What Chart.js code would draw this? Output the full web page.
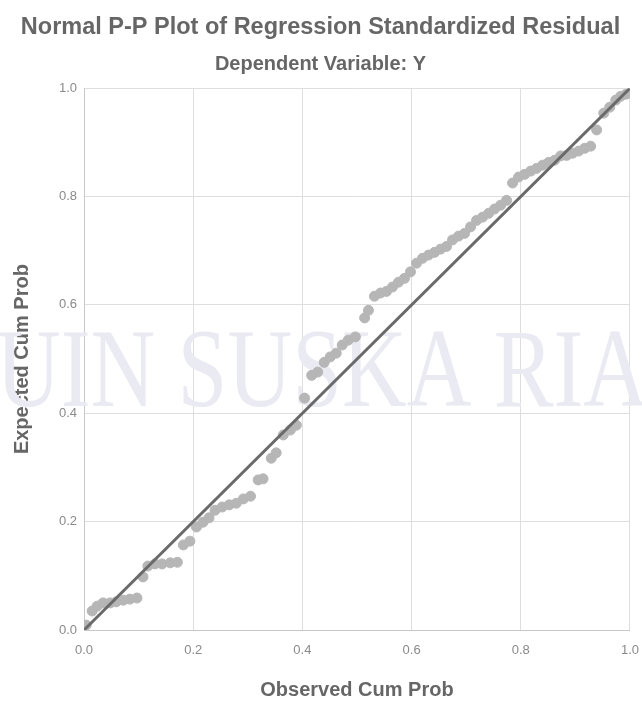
<!DOCTYPE html>
<html>
<head>
<meta charset="utf-8">
<script src="https://cdn.jsdelivr.net/npm/chart.js@4"></script>
<style>
  html, body { margin: 0; padding: 0; background: #fff; }
  #wrap { width: 642px; height: 704px; }
</style>
</head>
<body>
<div id="wrap"><canvas id="pp" width="642" height="704"></canvas></div>
<script>
/* P-P plot data */
var observedCum = [
  0.004, 0.015, 0.024, 0.035, 0.048, 0.059, 0.072, 0.084, 0.097, 0.108,
  0.117, 0.130, 0.143, 0.158, 0.171, 0.182, 0.194, 0.206, 0.218, 0.229,
  0.240, 0.253, 0.266, 0.279, 0.292, 0.305, 0.319, 0.328, 0.343, 0.352,
  0.365, 0.378, 0.389, 0.404, 0.417, 0.428, 0.440, 0.451, 0.462, 0.473,
  0.484, 0.497, 0.514, 0.521, 0.532, 0.543, 0.554, 0.565, 0.576, 0.587,
  0.598, 0.609, 0.620, 0.631, 0.642, 0.653, 0.664, 0.675, 0.686, 0.697,
  0.708, 0.719, 0.730, 0.741, 0.752, 0.763, 0.774, 0.785, 0.796, 0.807,
  0.818, 0.829, 0.840, 0.851, 0.862, 0.873, 0.884, 0.895, 0.906, 0.917,
  0.928, 0.939, 0.952, 0.963, 0.974, 0.983, 0.993
];
var expectedCum = [
  0.009, 0.035, 0.044, 0.050, 0.050, 0.052, 0.055, 0.057, 0.059, 0.098,
  0.118, 0.122, 0.122, 0.124, 0.125, 0.157, 0.164, 0.190, 0.199, 0.207,
  0.221, 0.227, 0.231, 0.234, 0.242, 0.247, 0.277, 0.279, 0.317, 0.327,
  0.360, 0.369, 0.378, 0.428, 0.470, 0.476, 0.494, 0.504, 0.511, 0.526,
  0.535, 0.541, 0.576, 0.590, 0.616, 0.622, 0.625, 0.633, 0.642, 0.649,
  0.661, 0.677, 0.686, 0.692, 0.697, 0.703, 0.708, 0.720, 0.727, 0.732,
  0.744, 0.756, 0.762, 0.769, 0.777, 0.784, 0.793, 0.825, 0.836, 0.841,
  0.847, 0.852, 0.858, 0.863, 0.867, 0.875, 0.876, 0.880, 0.884, 0.889,
  0.893, 0.923, 0.954, 0.965, 0.978, 0.985, 0.989
];
var refLine = [0, 1];
var tickValues = [0, 0.2, 0.4, 0.6, 0.8, 1.0];

var points = observedCum.map(function(x, i) { return { x: x, y: expectedCum[i] }; });
var diag = refLine.map(function(v) { return { x: v, y: v }; });

var FONT = 'Arial, "Liberation Sans", sans-serif';

/* faint watermark behind the plot */
var watermark = {
  id: 'watermark',
  beforeDatasetsDraw: function(chart) {
    var ctx = chart.ctx;
    ctx.save();
    ctx.font = '112px "Liberation Serif", serif';
    ctx.fillStyle = '#eaeaf3';
    ctx.textBaseline = 'alphabetic';
    var w = ctx.measureText('UIN SUSKA RIA').width;
    ctx.translate(-4, 406);
    ctx.scale(652 / w, 1);
    ctx.fillText('UIN SUSKA RIAU', 0, 0);
    ctx.restore();
  }
};

new Chart(document.getElementById('pp'), {
  type: 'scatter',
  data: {
    datasets: [
      {
        data: points,
        backgroundColor: '#b6b6b6',
        borderColor: '#b6b6b6',
        pointRadius: 5,
        pointHoverRadius: 5,
        order: 2
      },
      {
        data: diag,
        showLine: true,
        borderColor: '#6a6a6a',
        borderWidth: 3,
        pointRadius: 0,
        order: 1
      }
    ]
  },
  options: {
    responsive: false,
    animation: false,
    layout: { padding: { left: 0, right: 1, top: 0, bottom: 0 } },
    plugins: {
      legend: { display: false },
      tooltip: { enabled: false },
      title: {
        display: true,
        text: 'Normal P-P Plot of Regression Standardized Residual',
        color: '#666666',
        font: { family: FONT, size: 23.5, weight: 'bold' },
        padding: { top: 13, bottom: 6 }
      },
      subtitle: {
        display: true,
        text: 'Dependent Variable: Y',
        color: '#666666',
        font: { family: FONT, size: 20, weight: 'bold' },
        padding: { top: 5, bottom: 12 }
      }
    },
    scales: {
      x: {
        type: 'linear',
        min: 0,
        max: 1,
        afterBuildTicks: function(axis) { axis.ticks = tickValues.map(function(v) { return { value: v }; }); },
        afterFit: function(axis) { axis.height = 74; },
        ticks: {
          color: '#8a8a8a',
          font: { family: FONT, size: 13 },
          padding: 3,
          callback: function(v) { return v.toFixed(1); }
        },
        grid: { color: '#dedede', lineWidth: 1, drawTicks: true, tickLength: 10, tickColor: 'rgba(0,0,0,0)' },
        border: { color: '#c8c8c8' },
        title: {
          display: true,
          text: 'Observed Cum Prob',
          color: '#666666',
          font: { family: FONT, size: 20, weight: 'bold' },
          padding: { top: 10, bottom: 2 }
        }
      },
      y: {
        type: 'linear',
        min: 0,
        max: 1,
        afterBuildTicks: function(axis) { axis.ticks = tickValues.map(function(v) { return { value: v }; }); },
        afterFit: function(axis) { axis.width = 84; },
        ticks: {
          color: '#8a8a8a',
          font: { family: FONT, size: 13 },
          padding: 7,
          callback: function(v) { return v.toFixed(1); }
        },
        grid: { color: '#dedede', lineWidth: 1, drawTicks: false },
        border: { color: '#c8c8c8' },
        title: {
          display: true,
          text: 'Expected Cum Prob',
          color: '#666666',
          font: { family: FONT, size: 20, weight: 'bold' },
          padding: { top: 10, bottom: 4 }
        }
      }
    }
  },
  plugins: [watermark]
});
</script>
</body>
</html>
